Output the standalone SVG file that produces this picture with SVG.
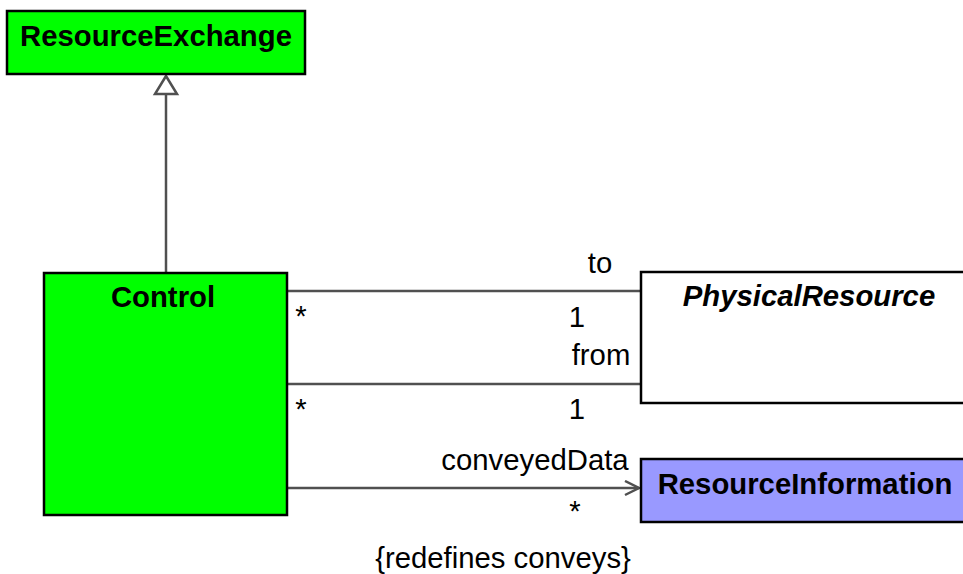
<svg xmlns="http://www.w3.org/2000/svg" width="963" height="574" viewBox="0 0 963 574">
<style>
.box{stroke:#000;stroke-width:2.5}
.t{font-family:"Liberation Sans",Arial,sans-serif;font-size:29.3px;fill:#000}
.b{font-weight:bold}
.c{stroke:#505050;stroke-width:2.5;fill:none}
</style>
<defs>
<marker id="open" markerWidth="20" markerHeight="20" refX="15" refY="8" orient="auto" markerUnits="userSpaceOnUse">
<path d="M1,1 L15,8 L1,15" fill="none" stroke="#505050" stroke-width="2.5"/>
</marker>
</defs>
<rect width="963" height="574" fill="#fff"/>
<g id="connectors">
<line class="c" x1="166" y1="94" x2="166" y2="272"/>
<path d="M166,76 L177,94 L155,94 Z" fill="#fff" stroke="#505050" stroke-width="2.5"/>
<line class="c" x1="287" y1="291" x2="641" y2="291"/>
<line class="c" x1="287" y1="384" x2="641" y2="384"/>
<line class="c" x1="287" y1="488" x2="639" y2="488" marker-end="url(#open)"/>
<text class="t" x="600" y="273" text-anchor="middle">to</text>
<text class="t" x="301" y="326" text-anchor="middle">*</text>
<text class="t" x="577" y="327" text-anchor="middle">1</text>
<text class="t" x="601" y="365" text-anchor="middle">from</text>
<text class="t" x="301" y="419" text-anchor="middle">*</text>
<text class="t" x="577" y="419" text-anchor="middle">1</text>
<text class="t" x="535" y="470" text-anchor="middle">conveyedData</text>
<text class="t" x="575" y="521" text-anchor="middle">*</text>
<text class="t" x="503" y="568" text-anchor="middle">{redefines conveys}</text>
</g>
<g id="ResourceExchange">
<rect class="box" x="7" y="11" width="298" height="63" fill="#00ff00"/>
<text class="t b" x="156" y="46" text-anchor="middle">ResourceExchange</text>
</g>
<g id="Control">
<rect class="box" x="44" y="273" width="243" height="242" fill="#00ff00"/>
<text class="t b" x="163" y="307" text-anchor="middle">Control</text>
</g>
<g id="PhysicalResource">
<rect class="box" x="641" y="272" width="330" height="131" fill="#fff"/>
<text class="t b" x="809" y="306" text-anchor="middle" font-style="italic">PhysicalResource</text>
</g>
<g id="ResourceInformation">
<rect class="box" x="641" y="459" width="330" height="63" fill="#9999ff"/>
<text class="t b" x="805" y="494" text-anchor="middle">ResourceInformation</text>
</g>
</svg>
